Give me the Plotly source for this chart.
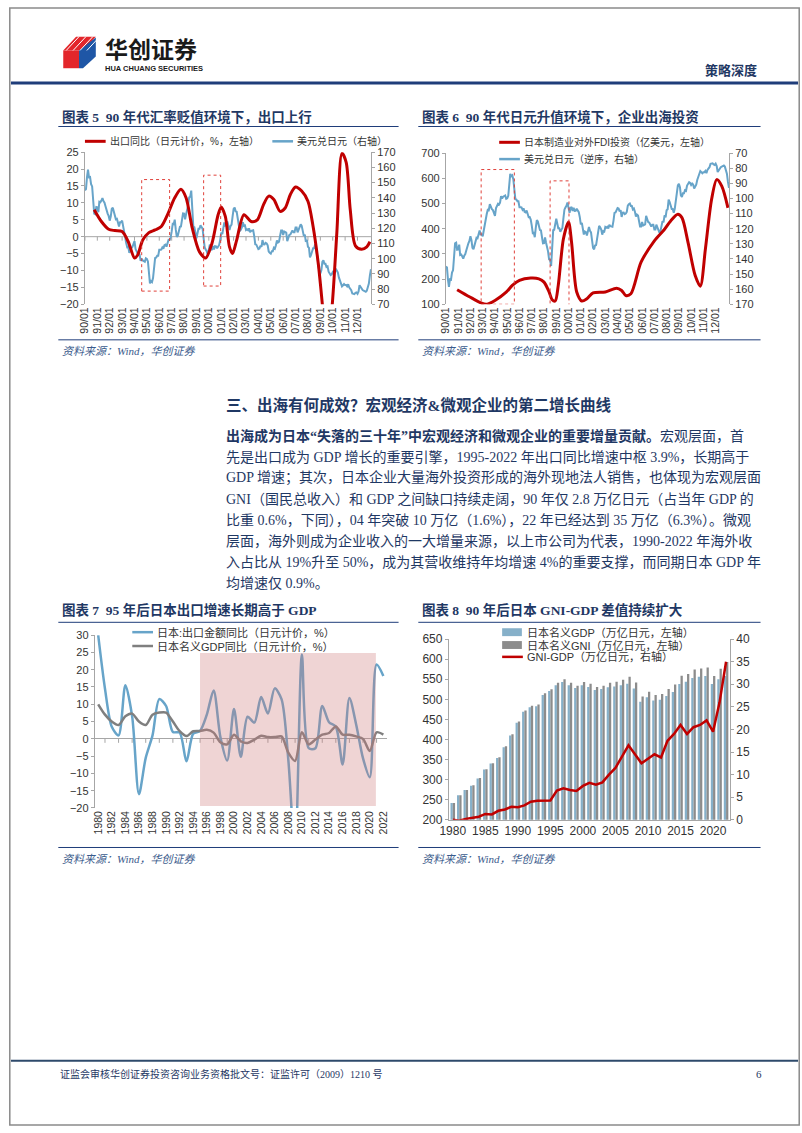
import plotly.graph_objects as go
import pandas as pd

W, H = 802, 1133
def X(p): return p / W
def Y(p): return 1 - p / H

# ---------------- data ----------------
# Chart 5 / 6: USD/JPY monthly (1990-01 .. 2013-02)
usd_dates = pd.date_range("1990-01-01", "2013-02-01", freq="MS").strftime("%Y-%m-%d").tolist()
usdjpy = [
    145.0, 145.7, 153.3, 158.5, 153.5, 153.7, 149.0, 147.5, 138.4, 129.6, 129.2, 133.9,
    133.7, 130.5, 137.4, 137.1, 138.2, 139.8, 137.8, 136.8, 134.3, 130.8, 129.6, 128.1,
    125.0, 127.6, 132.7, 133.5, 130.8, 126.8, 125.9, 126.2, 122.6, 121.2, 123.9, 123.9,
    125.0, 120.8, 117.0, 112.4, 110.3, 107.5, 107.7, 103.8, 105.7, 107.0, 107.7, 109.7,
    111.5, 106.3, 105.0, 103.5, 104.0, 102.7, 98.5, 100.0, 98.8, 98.4, 98.0, 100.2,
    99.8, 98.2, 90.8, 83.7, 85.2, 84.6, 87.2, 94.6, 100.5, 100.7, 101.9, 101.9,
    105.8, 105.8, 105.9, 107.4, 106.5, 108.8, 109.2, 107.9, 109.9, 112.4, 112.3, 113.9,
    117.9, 122.9, 122.7, 125.6, 119.2, 114.3, 115.2, 117.9, 120.9, 121.1, 125.4, 129.7,
    129.6, 125.8, 129.1, 131.9, 135.0, 140.3, 140.7, 144.7, 134.5, 121.0, 120.7, 117.4,
    113.3, 116.7, 119.7, 119.7, 122.0, 120.7, 119.7, 113.3, 107.4, 106.0, 104.8, 102.6,
    105.3, 109.4, 106.3, 105.6, 108.3, 106.1, 108.2, 108.1, 106.8, 108.4, 109.0, 112.2,
    117.1, 116.1, 121.2, 123.8, 121.8, 122.2, 124.5, 121.6, 118.9, 121.4, 122.4, 127.6,
    132.7, 133.6, 131.1, 130.8, 126.3, 123.3, 118.1, 119.0, 120.5, 123.9, 121.6, 121.9,
    118.8, 119.3, 118.7, 119.9, 117.4, 118.3, 118.7, 118.7, 114.8, 109.5, 109.2, 107.7,
    106.3, 106.6, 108.5, 107.7, 112.2, 109.4, 109.3, 110.4, 110.0, 108.8, 104.7, 103.8,
    103.3, 104.9, 104.9, 107.2, 106.6, 108.8, 111.9, 110.6, 111.2, 114.9, 118.5, 118.5,
    115.5, 117.9, 117.3, 117.1, 111.5, 114.5, 115.6, 115.9, 117.2, 118.6, 117.3, 117.3,
    120.5, 120.5, 117.3, 118.8, 120.8, 122.6, 121.6, 116.7, 115.0, 115.8, 111.1, 112.4,
    107.8, 107.1, 100.8, 102.4, 104.4, 106.9, 106.9, 109.4, 106.6, 100.1, 96.9, 91.3,
    90.3, 92.5, 97.9, 99.0, 96.6, 96.6, 94.5, 94.9, 91.4, 90.3, 89.2, 89.7,
    91.1, 90.1, 90.7, 93.4, 91.7, 90.9, 87.7, 85.4, 84.4, 81.8, 82.5, 83.3,
    82.6, 82.6, 81.8, 83.2, 81.1, 80.5, 79.3, 77.1, 76.8, 76.7, 77.5, 77.8,
    76.9, 78.5, 82.5, 81.3, 79.7, 79.3, 78.9, 78.7, 78.2, 78.9, 80.9, 83.6,
    89.0, 93.0,
]
tick_years = list(range(1990, 2013))
tick_dates = [f"{y}-01-01" for y in tick_years]
tick_text = [f"{y % 100:02d}/01" for y in tick_years]

# Chart 5: export yoy (JPY, %), smoothed
exp_dates = ["1990-10-01", "1991-05-01", "1991-12-01", "1992-06-01", "1993-01-01", "1993-07-01",
             "1994-01-01", "1994-04-01", "1994-09-01", "1995-03-01", "1995-09-01", "1996-03-01",
             "1996-09-01", "1997-04-01", "1997-10-01", "1998-03-01", "1998-09-01", "1999-04-01",
             "1999-10-01", "2000-04-01", "2000-10-01", "2001-01-01", "2001-05-01", "2001-09-01",
             "2001-12-01", "2002-04-01", "2002-11-01", "2003-06-01", "2003-12-01", "2004-06-01",
             "2004-11-01", "2005-04-01", "2005-10-01", "2006-03-01", "2006-08-01", "2007-01-01",
             "2007-07-01", "2008-01-01", "2008-06-01", "2008-11-01", "2009-03-01", "2009-07-01",
             "2009-12-01", "2010-05-01", "2010-10-01", "2011-02-01", "2011-06-01", "2011-11-01",
             "2012-05-01", "2012-10-01", "2013-01-01"]
exp_yoy = [8.0, 4.5, 2.2, 1.8, 1.5, -1.5,
           -6.3, -5.5, -1.0, 1.2, 2.0, 3.0,
           6.5, 11.5, 14.0, 11.5, 2.5, -4.5,
           -6.3, -2.0, 6.5, 8.8, 6.0, -3.0,
           -5.0, -1.0, 6.5, 4.5, 5.0, 9.5,
           12.0, 11.0, 7.5, 8.5, 12.5, 14.7,
           13.5, 10.5, 3.0, -8.0, -20.0, -33.0,
           -22.0, 1.0, 24.7, 22.0, 8.0, -2.7,
           -3.7, -3.0, -1.5]

# Chart 6: Japanese manufacturing outward FDI (100 mn USD)
fdi_dates = ["1990-12-01", "1991-12-01", "1992-12-01", "1993-05-01", "1994-01-01", "1994-12-01",
             "1995-06-01", "1996-01-01", "1996-12-01", "1997-08-01", "1998-01-01", "1998-06-01",
             "1998-09-01", "1998-12-01", "1999-03-01", "1999-08-01", "2000-01-01", "2000-04-01",
             "2000-09-01", "2001-02-01", "2001-07-01", "2002-01-01", "2003-01-01", "2003-12-01",
             "2004-05-01", "2004-09-01", "2005-02-01", "2005-12-01", "2007-01-01", "2007-11-01",
             "2008-05-01", "2008-12-01", "2009-04-01", "2009-10-01", "2010-05-01", "2010-10-01",
             "2011-03-01", "2011-09-01", "2012-02-01", "2012-07-01", "2013-01-01"]
fdi_vals = [158, 130, 104, 100, 115, 148,
            175, 195, 204, 201, 188, 149,
            118, 113, 175, 359, 427, 346,
            149, 113, 122, 145, 149, 164,
            155, 135, 142, 267, 352, 398,
            431, 457, 444, 345, 214, 172,
            319, 516, 595, 569, 483]

# Chart 7 / 8: annual 1980-2022
years = list(range(1980, 2023))
export_yoy = [30.0, 14.5, 3.5, 1.0, 15.5, 6.5, -16.0, -5.5, 1.0, 11.5,
              9.5, 2.0, 1.8, -6.5, 1.5, 2.3, 7.0, 14.0, 0.5, -6.3,
              8.6, -5.2, 6.4, 4.7, 12.1, 7.3, 14.6, 11.5, -6.0, -33.1,
              24.4, -2.7, -2.7, 9.5, 4.8, 3.5, -7.4, 11.8, 4.1, -5.6,
              -11.1, 21.5, 18.2]
gdp_yoy = [10.0, 7.0, 5.0, 4.0, 6.5, 7.3, 5.0, 4.0, 7.0, 7.6,
           7.6, 5.0, 2.2, 0.8, 2.2, 2.3, 2.6, 1.8, -1.0, -1.6,
           1.2, -0.7, -1.2, -0.2, 0.9, 0.5, 0.5, 0.7, -4.0, -6.4,
           1.9, -1.6, -0.2, 1.2, 1.7, 3.6, 1.2, 1.2, 0.7, 0.0,
           -3.5, 1.9, 1.2]
gdp_nominal = [242, 261, 274, 285, 303, 325, 340, 354, 381, 410,
               442, 469, 480, 483, 511, 521, 535, 543, 535, 528,
               535, 531, 523, 526, 530, 532, 535, 539, 527, 494,
               505, 497, 499, 508, 518, 538, 544, 553, 556, 558,
               538, 550, 558]
gni_nominal = [242, 261, 274, 286, 304, 326, 341, 356, 383, 413,
               445, 472, 484, 487, 515, 525, 541, 550, 541, 534,
               543, 539, 531, 534, 541, 544, 549, 556, 542, 507,
               519, 511, 513, 526, 537, 559, 563, 574, 577, 579,
               558, 576, 593]
gni_gdp = [0.0, -0.2, 0.2, 0.5, 0.7, 1.3, 1.2, 2.0, 2.3, 2.9,
           2.8, 3.2, 4.0, 4.2, 4.2, 4.3, 6.5, 7.0, 6.6, 6.4,
           7.5, 8.2, 7.8, 8.3, 10.0, 11.5, 14.0, 16.5, 14.5, 12.5,
           13.5, 14.5, 13.8, 17.5, 19.0, 21.0, 19.0, 20.5, 21.0, 22.0,
           19.5, 26.0, 35.0]

# ---------------- styles ----------------
RED = "#C00000"
BLUE = "#67A4C9"
GRAY = "#7F7F7F"
BAR_BLUE = "#86B0C9"
BAR_GRAY = "#8C8C8C"
NAVY = "#1F3864"
AXC = "#A6A6A6"
TICKF = dict(family="Liberation Sans, Arial, sans-serif", size=11, color="#333333")
CJK = "Liberation Serif, Noto Sans CJK SC"
CJK_SANS = "Liberation Sans, Noto Sans CJK SC"

fig = go.Figure()

# Chart 5
fig.add_trace(go.Scatter(x=usd_dates, y=usdjpy, mode="lines", line=dict(color=BLUE, width=2),
                         xaxis="x", yaxis="y", showlegend=False))
fig.add_trace(go.Scatter(x=exp_dates, y=exp_yoy, mode="lines", line=dict(color=RED, width=3, shape="spline", smoothing=0.8),
                         xaxis="x", yaxis="y2", showlegend=False))
# Chart 6
fig.add_trace(go.Scatter(x=usd_dates, y=usdjpy, mode="lines", line=dict(color=BLUE, width=2),
                         xaxis="x2", yaxis="y3", showlegend=False))
fig.add_trace(go.Scatter(x=fdi_dates, y=fdi_vals, mode="lines", line=dict(color=RED, width=3, shape="spline", smoothing=0.8),
                         xaxis="x2", yaxis="y4", showlegend=False))
# Chart 7
fig.add_trace(go.Scatter(x=years, y=export_yoy, mode="lines", line=dict(color=BLUE, width=2.5, shape="spline", smoothing=0.8),
                         xaxis="x3", yaxis="y5", showlegend=False))
fig.add_trace(go.Scatter(x=years, y=gdp_yoy, mode="lines", line=dict(color=GRAY, width=2.5, shape="spline", smoothing=0.8),
                         xaxis="x3", yaxis="y5", showlegend=False))
# Chart 8
fig.add_trace(go.Bar(x=years, y=gdp_nominal, marker=dict(color=BAR_BLUE, line_width=0),
                     xaxis="x4", yaxis="y6", showlegend=False))
fig.add_trace(go.Bar(x=years, y=gni_nominal, marker=dict(color=BAR_GRAY, line_width=0),
                     xaxis="x4", yaxis="y6", showlegend=False))
fig.add_trace(go.Scatter(x=years, y=gni_gdp, mode="lines", line=dict(color=RED, width=2.5),
                         xaxis="x4", yaxis="y7", showlegend=False))

def yax(dom, rng, dtick, side, anchor, overlaying=None, font=TICKF):
    d = dict(domain=dom, range=rng, dtick=dtick, side=side, anchor=anchor,
             showline=True, linecolor=AXC, linewidth=1, ticks="outside", ticklen=3,
             tickcolor=AXC, showgrid=False, zeroline=False, tickfont=font, fixedrange=True)
    if overlaying:
        d["overlaying"] = overlaying
    return d

dom5x = [X(77), X(367)];  dom5y = [Y(301), Y(147)]
dom6x = [X(443), X(730)]; dom6y = [Y(301), Y(148)]
dom7x = [X(87), X(383)];  dom7y = [Y(811), Y(636)]
dom8x = [X(446), X(731)]; dom8y = [Y(823), Y(640)]

XTF = dict(family="Liberation Sans, Arial, sans-serif", size=10.5, color="#333333")

def date_x(dom, anchor):
    return dict(domain=dom, anchor=anchor, type="date", range=["1990-01-01", "2013-02-01"],
                tickmode="array", tickvals=tick_dates, ticktext=tick_text, tickangle=-90,
                showline=False, showgrid=False, zeroline=False, ticks="", tickfont=XTF)

fig.update_layout(
    width=W, height=H, margin=dict(l=0, r=0, t=0, b=0),
    paper_bgcolor="white", plot_bgcolor="rgba(0,0,0,0)",
    barmode="group", bargap=0.3, bargroupgap=0.0,
    xaxis=date_x(dom5x, "y"),
    yaxis=yax(dom5y, [70, 170], 10, "right", "x"),
    yaxis2=yax(dom5y, [-20, 25], 5, "left", "x", overlaying="y"),
    xaxis2=date_x(dom6x, "y3"),
    yaxis3=yax(dom6y, [170, 70], 10, "right", "x2"),
    yaxis4=yax(dom6y, [100, 700], 100, "left", "x2", overlaying="y3"),
    xaxis3=dict(domain=dom7x, anchor="y5", range=[1979.5, 2022.5], tick0=1980, dtick=2,
                tickangle=-90, showline=False, showgrid=False, zeroline=False, ticks="", tickfont=XTF),
    yaxis5=dict(domain=dom7y, range=[-20, 30], dtick=5, anchor="x3", side="left",
                showline=True, linecolor=AXC, ticks="outside", ticklen=3, tickcolor=AXC,
                showgrid=False, zeroline=True, zerolinecolor=AXC, zerolinewidth=1, tickfont=TICKF),
    xaxis4=dict(domain=dom8x, anchor="y6", range=[1979.4, 2022.6], tick0=1980, dtick=5,
                showline=True, linecolor=AXC, showgrid=False, zeroline=False, ticks="",
                tickfont=dict(family="Liberation Sans, Arial, sans-serif", size=12, color="#333333")),
    yaxis6=yax(dom8y, [200, 650], 50, "left", "x4",
               font=dict(family="Liberation Sans, Arial, sans-serif", size=12, color="#333333")),
    yaxis7=yax(dom8y, [0, 40], 5, "right", "x4", overlaying="y6",
               font=dict(family="Liberation Sans, Arial, sans-serif", size=12, color="#333333")),
)

shapes = []
annos = []

def hline(x0, x1, y, color, width):
    shapes.append(dict(type="line", xref="paper", yref="paper", x0=X(x0), x1=X(x1), y0=Y(y), y1=Y(y),
                       line=dict(color=color, width=width), layer="above"))

def text(x, y, s, size, color="#222222", family=CJK, xanchor="left", yanchor="middle"):
    annos.append(dict(x=X(x), y=Y(y), xref="paper", yref="paper", text=s, showarrow=False,
                      xanchor=xanchor, yanchor=yanchor, align="left",
                      font=dict(size=size, color=color, family=family)))

# page border
shapes.append(dict(type="rect", xref="paper", yref="paper", x0=0.001, x1=0.999, y0=0.001, y1=0.999,
                   line=dict(color="#8A8A8A", width=1.5), layer="above"))

# header
hline(2, 800, 77, "#1F3D7A", 3)
shapes.append(dict(type="path", xref="paper", yref="paper",
                   path=f"M{X(55)},{Y(44)} L{X(68)},{Y(30)} L{X(88)},{Y(30)} L{X(75)},{Y(44)} Z",
                   fillcolor="#E3262B", line=dict(width=0)))
shapes.append(dict(type="path", xref="paper", yref="paper",
                   path=f"M{X(55)},{Y(44)} L{X(71)},{Y(44)} L{X(71)},{Y(62)} L{X(55)},{Y(62)} Z",
                   fillcolor="#E3262B", line=dict(width=0)))
shapes.append(dict(type="path", xref="paper", yref="paper",
                   path=f"M{X(71)},{Y(44)} L{X(88)},{Y(31)} L{X(88)},{Y(50)} L{X(75)},{Y(62)} L{X(71)},{Y(62)} Z",
                   fillcolor="#1E56A6", line=dict(width=0)))
for k in range(4):
    shapes.append(dict(type="line", xref="paper", yref="paper",
                       x0=X(58 + k * 7), y0=Y(44), x1=X(71 + k * 7), y1=Y(30),
                       line=dict(color="white", width=1)))
text(95, 41.5, "<b>华创证券</b>", 23, "#1A1A1A", "Noto Sans CJK SC")
text(95, 62.5, "<b>HUA CHUANG SECURITIES</b>", 7.5, "#1A1A1A", "Liberation Sans, Arial")
text(760, 63, "<b>策略深度</b>", 13, NAVY, "Noto Sans CJK SC", xanchor="right")

# chart titles / rules / sources
def frame(xl, xr, ytitle, yrule, ysrc_line, ysrc, title):
    text(xl + 2, ytitle, "<b>" + title + "</b>", 13.5, NAVY, CJK)
    hline(xl, xr, yrule, "#1F3D7A", 1)
    hline(xl, xr, ysrc_line, "#1F3D7A", 1)
    text(xl + 2, ysrc, "<i>资料来源：Wind，华创证券</i>", 11, "#3B5B8C", CJK)

frame(50, 395, 111, 121, 337, 348, "图表 5  90 年代汇率贬值环境下，出口上行")
frame(415, 762, 111, 121, 337, 348, "图表 6  90 年代日元升值环境下，企业出海投资")
frame(50, 395, 611, 623, 851, 863, "图表 7  95 年后日本出口增速长期高于 GDP")
frame(415, 762, 611, 623, 851, 863, "图表 8  90 年后日本 GNI-GDP 差值持续扩大")

# legends (custom, tight spacing as in the reference)
def leg_line(x0, y, color, width, label, size=10):
    hline(x0, x0 + 21, y, color, width)
    text(x0 + 23, y, label, size, "#333333", CJK_SANS)

def leg_box(x0, y, color, label, size=11):
    shapes.append(dict(type="rect", xref="paper", yref="paper", x0=X(x0), x1=X(x0 + 20),
                       y0=Y(y + 4), y1=Y(y - 4), fillcolor=color, line=dict(width=0)))
    text(x0 + 23, y, label, size, "#333333", CJK_SANS)

leg_line(77, 136, RED, 3, "出口同比（日元计价，%，左轴）")
leg_line(267, 136, BLUE, 2.5, "美元兑日元（右轴）")
leg_line(497, 137, RED, 3, "日本制造业对外FDI投资（亿美元，左轴）")
leg_line(497, 154, BLUE, 2.5, "美元兑日元（逆序，右轴）")
leg_line(125, 633, BLUE, 2.5, "日本:出口金额同比（日元计价，%）", 11)
leg_line(125, 647, GRAY, 2.5, "日本名义GDP同比（日元计价，%）", 11)
leg_box(500, 633, BAR_BLUE, "日本名义GDP（万亿日元，左轴）")
leg_box(500, 646, BAR_GRAY, "日本名义GNI（万亿日元，左轴）")
leg_line(500, 658, RED, 2.5, "GNI-GDP（万亿日元，右轴）", 11)

# chart 5 zero line with ticks
shapes.append(dict(type="line", xref="x domain", yref="y2", x0=0, x1=1, y0=0, y1=0,
                   line=dict(color=AXC, width=1), layer="below"))
for d in tick_dates:
    shapes.append(dict(type="line", xref="x", yref="y2", ysizemode="pixel", yanchor=0,
                       x0=d, x1=d, y0=-4, y1=0,
                       line=dict(color=AXC, width=1), layer="below"))
# chart 7 zero ticks
for yr in range(1981, 2023, 2):
    shapes.append(dict(type="line", xref="x3", yref="y5", ysizemode="pixel", yanchor=0,
                       x0=yr, x1=yr, y0=-4, y1=0, line=dict(color=AXC, width=1), layer="below"))

# red dashed boxes
def dbox(xr, yr, x0, x1, y0, y1):
    shapes.append(dict(type="rect", xref=xr, yref=yr, x0=x0, x1=x1, y0=y0, y1=y1,
                       line=dict(color="#E0403A", width=1, dash="dot"), layer="above"))
dbox("x", "y2", "1994-08-01", "1996-11-01", -16.1, 16.9)
dbox("x", "y2", "1999-08-01", "2000-12-15", -14.6, 18.2)
dbox("x2", "y4", "1992-11-15", "1995-08-01", 100, 635)
dbox("x2", "y4", "1998-07-01", "2000-01-15", 95, 590)

# chart 7 pink overlay
shapes.append(dict(type="rect", xref="x3", yref="y5", x0=1995.0, x1=2020.9, y0=-19.4, y1=24.8,
                   fillcolor="rgba(205,120,120,0.32)", line=dict(width=0), layer="above"))

# text block
TXT = "#1F3864"
text(218, 403, "<b>三、出海有何成效？宏观经济&微观企业的第二增长曲线</b>", 15.5, TXT, CJK)
lines = [
    "<b>出海成为日本“失落的三十年”中宏观经济和微观企业的重要增量贡献。</b>宏观层面，首",
    "先是出口成为 GDP 增长的重要引擎，1995-2022 年出口同比增速中枢 3.9%，长期高于",
    "GDP 增速；其次，日本企业大量海外投资形成的海外现地法人销售，也体现为宏观层面",
    "GNI（国民总收入）和 GDP 之间缺口持续走阔，90 年仅 2.8 万亿日元（占当年 GDP 的",
    "比重 0.6%，下同），04 年突破 10 万亿（1.6%），22 年已经达到 35 万亿（6.3%）。微观",
    "层面，海外则成为企业收入的一大增量来源，以上市公司为代表，1990-2022 年海外收",
    "入占比从 19%升至 50%，成为其营收维持年均增速 4%的重要支撑，而同期日本 GDP 年",
    "均增速仅 0.9%。",
]
for i, s in enumerate(lines):
    text(218, 434 + i * 21.4, s, 14, TXT, CJK)

# footer
hline(2, 800, 1067, "#2E4A6B", 2)
text(50, 1080, "证监会审核华创证券投资咨询业务资格批文号：证监许可（2009）1210 号", 10, NAVY, CJK)
text(765, 1080, "6", 11, NAVY, CJK, xanchor="right")

fig.update_layout(shapes=shapes, annotations=annos)
fig.write_html("out.html", config={"displayModeBar": False, "staticPlot": True},
               post_script="document.body.style.margin='0';document.body.style.padding='0';"
                           "document.documentElement.style.overflow='hidden';")
